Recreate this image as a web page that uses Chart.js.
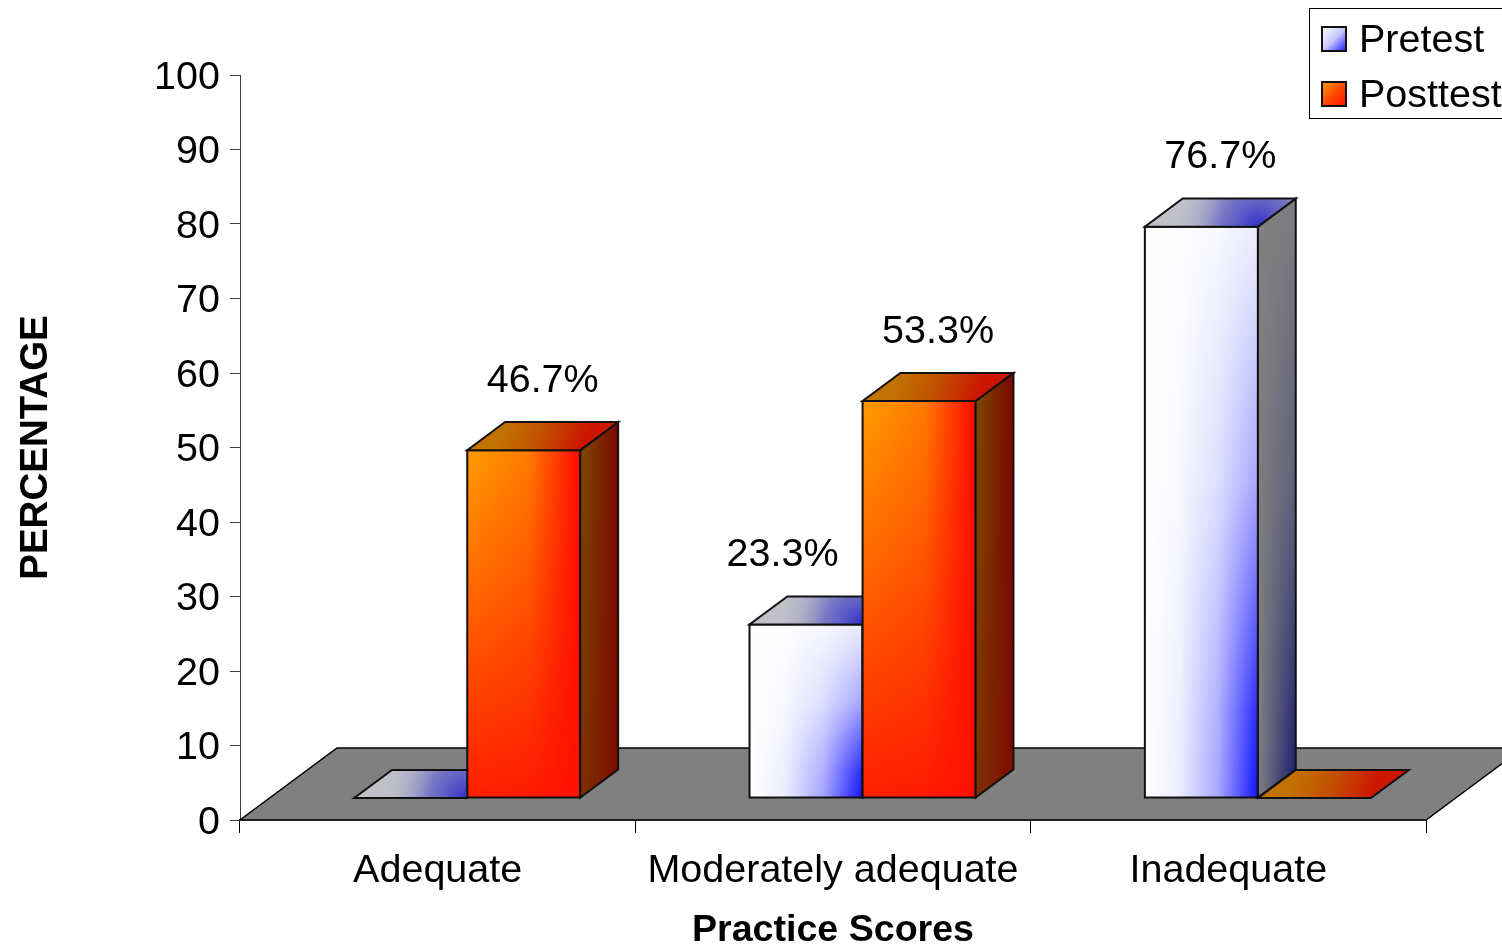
<!DOCTYPE html>
<html>
<head>
<meta charset="utf-8">
<script src="https://cdn.jsdelivr.net/npm/chart.js@4/dist/chart.umd.min.js"></script>
<style>
  html, body { margin: 0; padding: 0; background: #ffffff; }
  canvas { display: block; }
</style>
</head>
<body>
<canvas id="chart" width="1502" height="947"></canvas>
<script>
// Practice scores, percentage of respondents per category
const categories = ['Adequate', 'Moderately adequate', 'Inadequate'];
const seriesNames = ['Pretest', 'Posttest'];
const pretest = [0, 23.3, 76.7];
const posttest = [46.7, 53.3, 0];
const yTickValues = [0, 10, 20, 30, 40, 50, 60, 70, 80, 90, 100];
const axisTitles = { x: 'Practice Scores', y: 'PERCENTAGE' };

const FONT = "'Liberation Sans', Arial, Helvetica, sans-serif";
const TEXT_SIZE = 39.5;

// Oblique projection: full floor depth, and where the bar blocks sit inside it
const floorDepth = { dx: 97, dy: -72 };
const barFront = 0.305;   // fraction of floor depth in front of the bars
const barThick = 0.39;    // fraction of floor depth taken by a bar

// Face shading for each series
const shading = [
  {
    front: [[0, '#ffffff'], [0.3, '#eeeeff'], [0.65, '#a6a6ff'], [1, '#1212ff']],
    frontWash: [[0, 'rgba(255,255,255,0.92)'], [0.45, 'rgba(255,255,255,0.62)'], [0.85, 'rgba(255,255,255,0.1)'], [1, 'rgba(255,255,255,0)']],
    side: [[0, '#808080'], [1, '#1a1a72']],
    sideWash: [[0, 'rgba(128,128,128,0.97)'], [0.5, 'rgba(128,128,128,0.65)'], [1, 'rgba(128,128,128,0)']],
    lidBase: '#c0c0c8',
    lidGlow: [[0, 'rgba(48,48,200,1)'], [0.45, 'rgba(90,90,196,0.7)'], [1, 'rgba(192,192,200,0)']],
    key: [[0, '#ffffff'], [0.5, '#c8c8ff'], [1, '#1a1aff']]
  },
  {
    front: [[0, '#ff9c00'], [0.55, '#ff7a00'], [1, '#ff0800']],
    frontWash: [[0, 'rgba(255,16,0,0)'], [1, 'rgba(255,16,0,0.9)']],
    side: [[0, '#7c4c00'], [1, '#7a0600']],
    sideWash: [[0, 'rgba(128,16,0,0)'], [1, 'rgba(128,16,0,0.45)']],
    lidBase: null,
    lid: [[0, '#c27200'], [0.5, '#c24e00'], [1, '#cc1600']],
    key: [[0, '#ff9c00'], [0.5, '#ff4a00'], [1, '#ff1000']]
  }
];

function linGrad(ctx, x0, y0, x1, y1, stops) {
  const g = ctx.createLinearGradient(x0, y0, x1, y1);
  stops.forEach(([o, c]) => g.addColorStop(o, c));
  return g;
}

function polyPath(ctx, pts) {
  ctx.beginPath();
  ctx.moveTo(pts[0][0], pts[0][1]);
  for (let k = 1; k < pts.length; k++) ctx.lineTo(pts[k][0], pts[k][1]);
  ctx.closePath();
}

function strokeEdges(ctx) {
  ctx.lineWidth = 2;
  ctx.strokeStyle = '#111111';
  ctx.lineJoin = 'miter';
  ctx.stroke();
}

const solid3d = {
  id: 'solid3d',
  beforeDatasetsDraw(chart) {
    const { ctx } = chart;
    const xs = chart.scales.x;
    const y0 = chart.scales.y.getPixelForValue(0);
    const l = xs.left, r = xs.right;
    ctx.save();
    polyPath(ctx, [[l, y0], [r, y0], [r + floorDepth.dx, y0 + floorDepth.dy], [l + floorDepth.dx, y0 + floorDepth.dy]]);
    ctx.fillStyle = '#808080';
    ctx.fill();
    ctx.lineWidth = 1.5;
    ctx.strokeStyle = '#000000';
    ctx.stroke();
    ctx.restore();
  },
  afterDatasetsDraw(chart) {
    const { ctx } = chart;
    const fx = floorDepth.dx * barFront, fy = floorDepth.dy * barFront;
    const dx = floorDepth.dx * barThick, dy = floorDepth.dy * barThick;
    const boxes = [];
    ctx.save();
    for (let i = 0; i < categories.length; i++) {
      boxes[i] = [];
      chart.data.datasets.forEach((ds, d) => {
        const el = chart.getDatasetMeta(d).data[i];
        const p = el.getProps(['x', 'y', 'base', 'width'], true);
        const left = p.x - p.width / 2 + fx;
        const right = p.x + p.width / 2 + fx;
        const top = p.y + fy;
        const bottom = p.base + fy;
        const s = shading[d];
        const value = ds.data[i];
        boxes[i][d] = { left, right, top, value };

        if (value > 0) {
          // front face
          const front = [[left, top], [right, top], [right, bottom], [left, bottom]];
          polyPath(ctx, front);
          ctx.fillStyle = linGrad(ctx, left, 0, right, 0, s.front);
          ctx.fill();
          polyPath(ctx, front);
          ctx.fillStyle = linGrad(ctx, 0, top, 0, bottom, s.frontWash);
          ctx.fill();
          polyPath(ctx, front);
          strokeEdges(ctx);
          // right side face
          const side = [[right, top], [right + dx, top + dy], [right + dx, bottom + dy], [right, bottom]];
          polyPath(ctx, side);
          ctx.fillStyle = linGrad(ctx, right, 0, right + dx, 0, s.side);
          ctx.fill();
          polyPath(ctx, side);
          ctx.fillStyle = linGrad(ctx, 0, top + dy, 0, bottom, s.sideWash);
          ctx.fill();
          polyPath(ctx, side);
          strokeEdges(ctx);
        }
        // top face (a flat lid when the value is zero)
        const lid = [[left, top], [right, top], [right + dx, top + dy], [left + dx, top + dy]];
        if (s.lidBase) {
          polyPath(ctx, lid);
          ctx.fillStyle = s.lidBase;
          ctx.fill();
          const g = ctx.createRadialGradient(right, top, 0, right, top, (right - left) * 0.75);
          s.lidGlow.forEach(([o, c]) => g.addColorStop(o, c));
          polyPath(ctx, lid);
          ctx.fillStyle = g;
          ctx.fill();
        } else {
          polyPath(ctx, lid);
          ctx.fillStyle = linGrad(ctx, left + dx, top + dy, right, top, s.lid);
          ctx.fill();
        }
        polyPath(ctx, lid);
        strokeEdges(ctx);
      });
    }

    // value labels above the blocks
    ctx.font = TEXT_SIZE + 'px ' + FONT;
    ctx.fillStyle = '#000000';
    ctx.textAlign = 'center';
    ctx.textBaseline = 'middle';
    boxes.forEach(group => {
      group.forEach((b, d) => {
        if (!(b.value > 0)) return;
        const text = b.value.toFixed(1) + '%';
        const w = ctx.measureText(text).width;
        let cx = (b.left + b.right) / 2 + dx / 2;
        const cy = b.top + dy - 41;
        const next = group[d + 1];
        if (next && next.value > b.value && cx + w / 2 > next.left - 24) {
          cx = next.left - 24 - w / 2;
        }
        ctx.fillText(text, cx, cy);
      });
    });
    ctx.restore();
  },
  afterDraw(chart) {
    // legend box in the top right corner
    const { ctx } = chart;
    const bx = 1309.5, by = 8.5;
    ctx.save();
    ctx.fillStyle = '#ffffff';
    ctx.fillRect(bx, by, 220, 110);
    ctx.lineWidth = 1;
    ctx.strokeStyle = '#000000';
    ctx.strokeRect(bx, by, 220, 110);
    ctx.font = TEXT_SIZE + 'px ' + FONT;
    ctx.textAlign = 'left';
    ctx.textBaseline = 'middle';
    chart.data.datasets.forEach((ds, d) => {
      const ky = 27 + d * 55;
      const kx = 1322;
      ctx.fillStyle = linGrad(ctx, kx, ky, kx + 24, ky + 24, shading[d].key);
      ctx.fillRect(kx, ky, 24, 24);
      ctx.lineWidth = 2;
      ctx.strokeStyle = '#111111';
      ctx.strokeRect(kx, ky, 24, 24);
      ctx.fillStyle = '#000000';
      ctx.fillText(ds.label, 1359, ky + 14);
    });
    ctx.restore();
  }
};

new Chart(document.getElementById('chart').getContext('2d'), {
  type: 'bar',
  data: {
    labels: categories,
    datasets: [
      { label: seriesNames[0], data: pretest, backgroundColor: 'rgba(0,0,0,0)', borderWidth: 0, categoryPercentage: 0.572, barPercentage: 1 },
      { label: seriesNames[1], data: posttest, backgroundColor: 'rgba(0,0,0,0)', borderWidth: 0, categoryPercentage: 0.572, barPercentage: 1 }
    ]
  },
  options: {
    responsive: false,
    animation: false,
    devicePixelRatio: 1,
    layout: { padding: { top: 75, right: 76, bottom: 0, left: 0 } },
    plugins: { legend: { display: false }, tooltip: { enabled: false } },
    scales: {
      x: {
        grid: { display: true, drawOnChartArea: false, offset: true, tickLength: 13, color: '#000000', lineWidth: 1 },
        border: { display: true, color: '#000000', width: 1.5 },
        ticks: { color: '#000000', font: { family: FONT, size: TEXT_SIZE }, padding: 14, maxRotation: 0, autoSkip: false },
        title: { display: true, text: axisTitles.x, color: '#000000', font: { family: FONT, size: 37.6, weight: 'bold', lineHeight: 1 }, padding: { top: 0, bottom: -2 } },
        afterFit(scale) { scale.height = 127; }
      },
      y: {
        min: 0,
        max: 100,
        afterBuildTicks(scale) { scale.ticks = yTickValues.map(v => ({ value: v })); },
        grid: { display: true, drawOnChartArea: false, tickLength: 10, color: '#404040', lineWidth: 1 },
        border: { display: true, color: '#404040', width: 1 },
        ticks: { color: '#000000', font: { family: FONT, size: TEXT_SIZE }, padding: 10, labelOffset: 3 },
        title: { display: true, text: axisTitles.y, color: '#000000', font: { family: FONT, size: 38.5, weight: 'bold', lineHeight: 1 }, padding: { top: 17, bottom: 0 } },
        afterFit(scale) { scale.width = 240; }
      }
    }
  },
  plugins: [solid3d]
});
</script>
</body>
</html>
